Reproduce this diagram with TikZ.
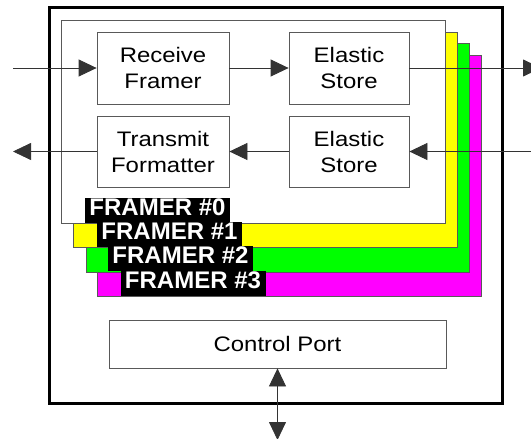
\documentclass[tikz,border=0pt]{standalone}
\usepackage{fontspec}
\setmainfont{Liberation Sans}
\newfontfamily\diagfont[FakeStretch=1.14]{Liberation Sans}
\usetikzlibrary{arrows.meta}
\begin{document}
\begin{tikzpicture}[x=1pt,y=-1pt,
  frameline/.style={draw=black!65, line width=0.8pt},
  block/.style={draw=black!65, line width=0.8pt, fill=white, align=center,
    font=\diagfont\fontsize{21}{26}\selectfont, inner sep=0pt},
  lbl/.style={fill=black, text=white, font=\bfseries\fontsize{24}{24}\selectfont,
    minimum width=145pt, inner xsep=0pt, inner ysep=0pt,
    text height=17.5pt, text depth=7.5pt, anchor=south},
  tipshape/.tip={Triangle[length=18pt,width=17pt]},
  arr/.style={line width=0.8pt, draw=black!80, -tipshape},
  darr/.style={line width=0.8pt, draw=black!80, tipshape-tipshape}]
\useasboundingbox (0,0) rectangle (531,439);
% outer device box
\draw[line width=3pt] (49,7) rectangle (502,403);
% framer layers
\filldraw[frameline, fill={rgb,255:red,255;green,0;blue,255}] (97,55) rectangle (481,296);
\filldraw[frameline, fill={rgb,255:red,0;green,255;blue,0}] (86,43) rectangle (469,272);
\filldraw[frameline, fill={rgb,255:red,255;green,255;blue,0}] (73,32) rectangle (457,247);
\filldraw[frameline, fill=white] (61,20) rectangle (445,223);
% labels
\node[lbl] (l0) at (157.5,223) {FRAMER \#0};
\node[lbl] (l1) at (169.5,247) {FRAMER \#1};
\node[lbl] (l2) at (180.5,271) {FRAMER \#2};
\node[lbl] (l3) at (193,296) {FRAMER \#3};
% blocks
\node[block, minimum width=132pt, minimum height=72pt] (rf) at (163,68) {Receive\\Framer};
\node[block, minimum width=120pt, minimum height=72pt] (es1) at (349,68) {Elastic\\Store};
\node[block, minimum width=132pt, minimum height=71pt] (tf) at (163,151.5) {Transmit\\Formatter};
\node[block, minimum width=120pt, minimum height=71pt] (es2) at (349,151.5) {Elastic\\Store};
\node[block, minimum width=337pt, minimum height=48pt] (cp) at (277.5,344) {Control Port};
% external points
\coordinate (in1) at (13,68);
\coordinate (out1) at (541,68);
\coordinate (in2) at (531,151.5);
\coordinate (out2) at (13,151.5);
\coordinate (bus) at (277.5,440);
% connectors
\draw[arr] (in1) -- (rf.west);
\draw[arr] (rf.east) -- (es1.west);
\draw[arr] (es1.east) -- (out1);
\draw[arr] (in2) -- (es2.east);
\draw[arr] (es2.west) -- (tf.east);
\draw[arr] (tf.west) -- (out2);
\draw[darr] (cp.south) -- (bus);
\end{tikzpicture}
\end{document}
